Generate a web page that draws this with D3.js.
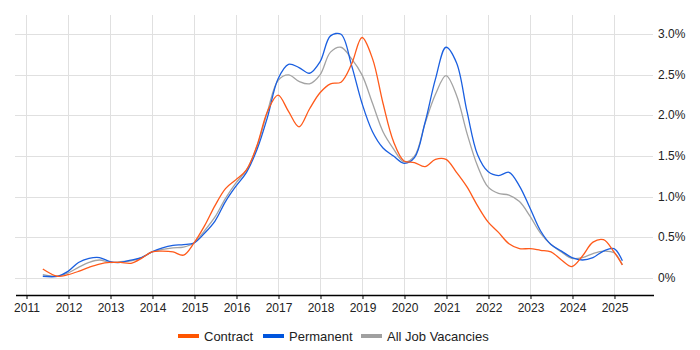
<!DOCTYPE html>
<html>
<head>
<meta charset="utf-8">
<script src="https://cdn.jsdelivr.net/npm/d3@7"></script>
<style>
  body { margin: 0; background: #fff; }
  svg text { font-family: "Liberation Sans", Arial, sans-serif; }
</style>
</head>
<body>
<svg id="chart" width="700" height="350"></svg>
<script>
// ===============================
// Dades (anys decimals, % de vacants)
// ===============================
const years = [
  2011.4, 2011.75, 2012, 2012.25, 2012.5, 2012.75, 2013, 2013.25, 2013.5, 2013.75,
  2014, 2014.25, 2014.5, 2014.75, 2015, 2015.25, 2015.5, 2015.75, 2016, 2016.25,
  2016.5, 2016.75, 2017, 2017.25, 2017.5, 2017.75, 2018, 2018.25, 2018.5, 2018.75,
  2019, 2019.25, 2019.5, 2019.75, 2020, 2020.25, 2020.5, 2020.75, 2021, 2021.25,
  2021.5, 2021.75, 2022, 2022.25, 2022.5, 2022.75, 2023, 2023.25, 2023.5, 2023.75,
  2024, 2024.25, 2024.5, 2024.75, 2025, 2025.2
];

const contract = [
  0.11, 0.02, 0.04, 0.08, 0.13, 0.17, 0.19, 0.19, 0.18, 0.24,
  0.32, 0.33, 0.32, 0.28, 0.43, 0.64, 0.89, 1.10, 1.21, 1.33,
  1.63, 2.05, 2.25, 2.05, 1.86, 2.08, 2.28, 2.39, 2.41, 2.63,
  2.96, 2.70, 2.15, 1.68, 1.44, 1.42, 1.37, 1.46, 1.46, 1.30,
  1.12, 0.89, 0.69, 0.56, 0.42, 0.36, 0.36, 0.34, 0.32, 0.22,
  0.14, 0.27, 0.44, 0.47, 0.32, 0.16
];

const permanent = [
  0.02, 0.02, 0.08, 0.19, 0.24, 0.25, 0.20, 0.19, 0.22, 0.25,
  0.32, 0.37, 0.40, 0.41, 0.43, 0.55, 0.70, 0.94, 1.13, 1.30,
  1.58, 1.98, 2.45, 2.63, 2.59, 2.52, 2.66, 2.98, 3.00, 2.62,
  2.15, 1.80, 1.60, 1.50, 1.41, 1.48, 1.91, 2.45, 2.84, 2.65,
  2.05, 1.52, 1.31, 1.26, 1.30, 1.13, 0.86, 0.58, 0.41, 0.33,
  0.25, 0.22, 0.25, 0.33, 0.36, 0.21
];

const allJobs = [
  0.04, 0.02, 0.06, 0.13, 0.19, 0.22, 0.19, 0.20, 0.21, 0.25,
  0.32, 0.35, 0.37, 0.38, 0.43, 0.58, 0.75, 0.98, 1.17, 1.33,
  1.62, 2.05, 2.43, 2.50, 2.42, 2.39, 2.50, 2.78, 2.84, 2.70,
  2.50, 2.15, 1.80, 1.59, 1.43, 1.50, 1.90, 2.26, 2.49, 2.25,
  1.78, 1.38, 1.12, 1.04, 1.02, 0.94, 0.76, 0.55, 0.41, 0.32,
  0.24, 0.25, 0.30, 0.33, 0.31, 0.16
];

const yearTicks = d3.range(2011, 2026);
const pctTicks = [0, 0.5, 1.0, 1.5, 2.0, 2.5, 3.0];

const seriesNames = ["Contract", "Permanent", "All Job Vacancies"];
const seriesColors = ["#ff5a1a", "#1a5fe0", "#a3a3a3"];
const legendColors = ["#ff5500", "#0055dd", "#a0a0a0"];


// ===============================
// Escales
// ===============================
const svg = d3.select("#chart");

const plotLeft = 15, plotRight = 653, plotTop = 15, plotBottom = 295;

const x = d3.scaleLinear()
  .domain([2010.738, 2025.929])
  .range([plotLeft, plotRight]);

const y = d3.scaleLinear()
  .domain([-0.2107, 3.2371])
  .range([plotBottom, plotTop]);


// ===============================
// Graella
// ===============================
svg.append("g")
  .selectAll("line")
  .data(pctTicks)
  .enter()
  .append("line")
  .attr("x1", plotLeft)
  .attr("x2", plotRight)
  .attr("y1", d => Math.round(y(d)) + 0.5)
  .attr("y2", d => Math.round(y(d)) + 0.5)
  .attr("stroke", "#e0e0e0")
  .attr("stroke-width", 1);

svg.append("g")
  .selectAll("line")
  .data(yearTicks)
  .enter()
  .append("line")
  .attr("x1", d => Math.round(x(d)) + 0.5)
  .attr("x2", d => Math.round(x(d)) + 0.5)
  .attr("y1", plotTop)
  .attr("y2", plotBottom)
  .attr("stroke", "#e0e0e0")
  .attr("stroke-width", 1);


// ===============================
// Eixos
// ===============================
const xAxis = d3.axisBottom(x)
  .tickValues(yearTicks)
  .tickFormat(d3.format("d"))
  .tickSize(4)
  .tickSizeOuter(0);

const xg = svg.append("g")
  .attr("transform", `translate(0.5, ${plotBottom})`)
  .call(xAxis);

xg.select(".domain").attr("stroke", "#000").attr("stroke-width", 1.5);
xg.selectAll(".tick line").attr("stroke", "#000");
xg.selectAll(".tick text")
  .attr("y", 8)
  .style("font-size", "12px")
  .style("fill", "#222");

svg.append("g")
  .selectAll("text")
  .data(pctTicks)
  .enter()
  .append("text")
  .attr("x", 658)
  .attr("y", d => y(d) + 4)
  .text(d => d === 0 ? "0%" : d.toFixed(1) + "%")
  .style("font-size", "12px")
  .style("fill", "#222");


// ===============================
// Línies
// ===============================
const allSeries = [contract, permanent, allJobs];

const line = d3.line()
  .x((d, i) => x(years[i]))
  .y(d => y(d))
  .curve(d3.curveCatmullRom.alpha(0.5));

// dibuixar de darrere cap endavant: tots, permanent, contracte
[2, 1, 0].forEach(k => {
  svg.append("path")
    .datum(allSeries[k])
    .attr("d", line)
    .attr("fill", "none")
    .attr("stroke", seriesColors[k])
    .attr("stroke-width", 1.3);
});


// ===============================
// Llegenda
// ===============================
const legendX = [178, 263, 361];

const legend = svg.append("g")
  .selectAll("g")
  .data(seriesNames)
  .enter()
  .append("g")
  .attr("transform", (d, i) => `translate(${legendX[i]}, 336)`);

legend.append("rect")
  .attr("x", 0)
  .attr("y", -2)
  .attr("width", 21)
  .attr("height", 4)
  .attr("fill", (d, i) => legendColors[i]);

legend.append("text")
  .attr("x", 26)
  .attr("y", 5)
  .text(d => d)
  .style("font-size", "13px")
  .style("fill", "#222");
</script>
</body>
</html>
